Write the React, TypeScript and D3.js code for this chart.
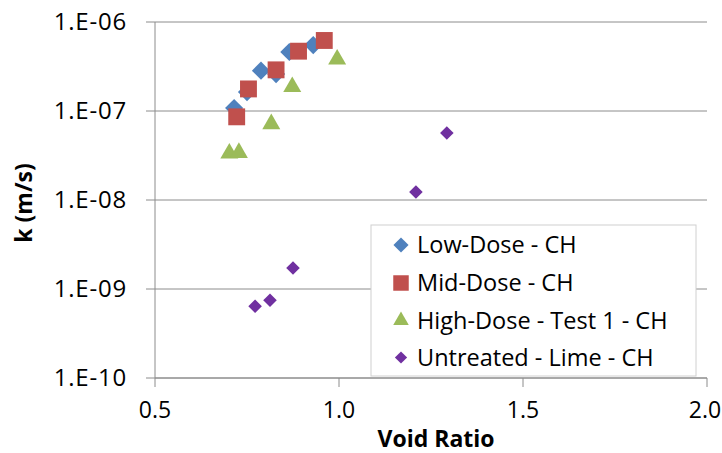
import * as d3 from "d3";

const width = 722;
const height = 453;
const plotLeft = 155;
const plotRight = 707;
const plotTop = 22;
const plotBottom = 378;

const fontFamily = "'Open Sans', 'Liberation Sans', sans-serif";

// void ratio, k (m/s)
const lowDoseE = [0.715, 0.75, 0.788, 0.829, 0.865, 0.93];
const lowDoseK = [1.08e-7, 1.63e-7, 2.84e-7, 2.6e-7, 4.6e-7, 5.5e-7];

const midDoseE = [0.722, 0.754, 0.829, 0.89, 0.96];
const midDoseK = [8.6e-8, 1.77e-7, 2.9e-7, 4.7e-7, 6.2e-7];

const highDoseE = [0.702, 0.728, 0.816, 0.873, 0.995];
const highDoseK = [3.35e-8, 3.4e-8, 7.15e-8, 1.87e-7, 3.8e-7];

const untreatedE = [0.772, 0.8125, 0.875, 1.209, 1.293];
const untreatedK = [6.4e-10, 7.46e-10, 1.72e-9, 1.23e-8, 5.66e-8];

const xTicks = [0.5, 1.0, 1.5, 2.0];
const yTicks = [1e-6, 1e-7, 1e-8, 1e-9, 1e-10];
const yTickLabels = ["1.E-06", "1.E-07", "1.E-08", "1.E-09", "1.E-10"];

const seriesNames = [
  "Low-Dose - CH",
  "Mid-Dose - CH",
  "High-Dose - Test 1 - CH",
  "Untreated - Lime - CH",
];

const x = d3.scaleLinear().domain([0.5, 2.0]).range([plotLeft, plotRight]);
const y = d3.scaleLog().domain([1e-10, 1e-6]).range([plotBottom, plotTop]);

type Series = {
  name: string;
  e: number[];
  k: number[];
  color: string;
  shape: "diamond" | "square" | "triangle";
  size: number;
  legendSize: number;
};

const series: Series[] = [
  { name: seriesNames[0], e: lowDoseE, k: lowDoseK, color: "#4F81BD", shape: "diamond", size: 165, legendSize: 115 },
  { name: seriesNames[1], e: midDoseE, k: midDoseK, color: "#C0504D", shape: "square", size: 285, legendSize: 240 },
  { name: seriesNames[2], e: highDoseE, k: highDoseK, color: "#9BBB59", shape: "triangle", size: 140, legendSize: 105 },
  { name: seriesNames[3], e: untreatedE, k: untreatedK, color: "#7030A0", shape: "diamond", size: 92, legendSize: 75 },
];

const symbolPath = (shape: Series["shape"], size: number) => {
  if (shape === "triangle") return d3.symbol(d3.symbolTriangle, size)() as string;
  return d3.symbol(d3.symbolSquare, size)() as string;
};

const Marker = ({ s, cx, cy, size }: { s: Series; cx: number; cy: number; size: number }) => (
  <path
    d={symbolPath(s.shape, size)}
    fill={s.color}
    transform={`translate(${cx},${cy})${s.shape === "diamond" ? " rotate(45)" : ""}`}
  />
);

const App = () => {
  const legendX = 371;
  const legendY = 225;
  const legendW = 325;
  const legendH = 151;
  const rowY = [245, 283, 320.5, 357.5];

  return (
    <svg
      width={width}
      height={height}
      viewBox={`0 0 ${width} ${height}`}
      style={{ position: "absolute", left: 0, top: 0, background: "#fff" }}
      fontFamily={fontFamily}
    >
      {/* gridlines */}
      {yTicks.map((t) => (
        <line key={`g${t}`} x1={plotLeft} x2={plotRight} y1={y(t)} y2={y(t)} stroke="#8C8C8C" strokeWidth={1} />
      ))}
      {/* axes */}
      <line x1={plotLeft} x2={plotLeft} y1={plotTop} y2={plotBottom} stroke="#8C8C8C" />
      <line x1={plotLeft} x2={plotRight} y1={plotBottom} y2={plotBottom} stroke="#8C8C8C" />
      {yTicks.map((t, i) => (
        <g key={`y${t}`}>
          <line x1={plotLeft - 9} x2={plotLeft} y1={y(t)} y2={y(t)} stroke="#8C8C8C" />
          <text x={127} y={y(t)} dy="0.35em" textAnchor="end" fontSize={24} letterSpacing={0.8} fill="#000">
            {yTickLabels[i]}
          </text>
        </g>
      ))}
      {xTicks.map((t) => (
        <g key={`x${t}`}>
          <line x1={x(t)} x2={x(t)} y1={plotBottom} y2={plotBottom + 9} stroke="#8C8C8C" />
          <text
            x={Math.min(x(t), width - 17)}
            y={410}
            dy="0.35em"
            textAnchor="middle"
            fontSize={23}
            fill="#000"
          >
            {t.toFixed(1)}
          </text>
        </g>
      ))}
      <text x={436} y={439} dy="0.35em" textAnchor="middle" fontSize={23} fontWeight="bold" fill="#000">
        Void Ratio
      </text>
      <text
        transform={`translate(24,${(plotTop + plotBottom) / 2 + 3}) rotate(-90)`}
        dy="0.35em"
        textAnchor="middle"
        fontSize={23}
        fontWeight="bold"
        fill="#000"
      >
        k (m/s)
      </text>

      {/* points */}
      {series.map((s) => (
        <g key={s.name}>
          {s.e.map((e, i) => (
            <Marker key={i} s={s} cx={x(e)} cy={y(s.k[i])} size={s.size} />
          ))}
        </g>
      ))}

      {/* legend */}
      <rect x={legendX} y={legendY} width={legendW} height={legendH} fill="#fff" stroke="#D0D0D0" />
      {series.map((s, i) => (
        <g key={`l${s.name}`}>
          <Marker s={s} cx={401} cy={rowY[i]} size={s.legendSize} />
          <text x={417} y={rowY[i]} dy="0.35em" fontSize={23.5} fill="#000">
            {s.name}
          </text>
        </g>
      ))}
    </svg>
  );
};

export default App;
